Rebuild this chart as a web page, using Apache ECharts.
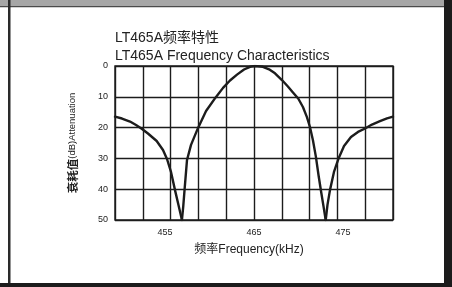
<!DOCTYPE html>
<html>
<head>
<meta charset="utf-8">
<script src="https://cdn.jsdelivr.net/npm/echarts@6/dist/echarts.min.js"></script>
<style>html,body{margin:0;padding:0;background:#fff}#c{width:452px;height:287px}</style>
</head>
<body>
<div id="c"></div>
<script>
// Frequency (kHz) / attenuation (dB) readings
var leftLobe = [
  [449.375, 16.46], [450.16, 17.05], [451.06, 18.02], [451.74, 19.16], [452.38, 20.36],
  [453.08, 21.92], [454.06, 24.35], [454.77, 27.27], [455.22, 30.2], [455.67, 34.4],
  [456.12, 40.3], [456.51, 45.1], [456.9, 50]
];
var mainLobe = [
  [456.9, 50], [457.05, 45.5], [457.2, 40], [457.47, 30.5], [457.92, 25.6],
  [458.71, 20.1], [459.61, 14.6], [460.69, 10.2], [461.52, 7.1], [462.3, 4.7],
  [463.09, 2.8], [463.88, 1.14], [464.55, 0.26], [465.1, 0], [466.0, 0.26],
  [466.69, 1.07], [467.36, 2.37], [468.14, 4.55], [468.81, 6.66], [469.38, 8.6],
  [469.97, 10.55], [470.5, 13.3], [470.95, 16.6], [471.29, 19.8], [471.62, 24.0],
  [471.96, 29.5], [472.25, 35.4], [472.5, 40], [472.81, 45.5], [473.06, 50]
];
var rightLobe = [
  [473.06, 50], [473.26, 45.1], [473.54, 40.3], [473.99, 34.4], [474.48, 30.2],
  [475.12, 26.0], [475.9, 23.05], [476.69, 21.4], [477.48, 20.3], [478.26, 19.0],
  [479.16, 17.9], [479.95, 17.0], [480.625, 16.46]
];
var xTickLabels = [455, 465, 475];

var chart = echarts.init(document.getElementById('c'), null, {renderer: 'canvas'});
var ink = '#1c1c1c';
var lineStyle = {color: ink, width: 2.4, join: 'round', cap: 'round'};
function lobe(d) {
  return {type: 'line', data: d, xAxisIndex: 0, yAxisIndex: 0, smooth: false,
    showSymbol: false, symbol: 'none', lineStyle: lineStyle, silent: true};
}
chart.setOption({
  animation: false,
  backgroundColor: '#fff',
  title: {
    text: 'LT465A频率特性\nLT465A Frequency Characteristics',
    left: 115, top: 29.5, padding: 0,
    textStyle: {fontFamily: 'Liberation Sans, Noto Sans CJK SC', fontSize: 14, fontWeight: 'normal', color: '#222', lineHeight: 18}
  },
  grid: {left: 115, top: 66, width: 278, height: 154, show: true, borderColor: ink, borderWidth: 1.4, backgroundColor: 'transparent'},
  xAxis: [{
    type: 'value', min: 449.375, max: 480.625,
    axisLine: {show: false}, axisTick: {show: false}, splitLine: {show: false},
    axisLabel: {customValues: xTickLabels, fontSize: 9, color: '#222', margin: 8, fontFamily: 'Liberation Sans'},
    name: '频率Frequency(kHz)', nameLocation: 'middle', nameGap: 24,
    nameTextStyle: {fontSize: 12, color: '#222', fontFamily: 'Liberation Sans, Noto Sans CJK SC', padding: [0, 10, 0, 0]}
  }, {
    type: 'value', min: 0, max: 10, interval: 1, position: 'bottom',
    axisLine: {show: false}, axisTick: {show: false}, axisLabel: {show: false},
    splitLine: {show: true, lineStyle: {color: ink, width: 1.4}}
  }],
  yAxis: {
    type: 'value', inverse: true, min: 0, max: 50, interval: 10,
    axisLine: {show: false}, axisTick: {show: false},
    splitLine: {show: true, lineStyle: {color: ink, width: 1.4}},
    axisLabel: {fontSize: 9, color: '#222', margin: 7, fontFamily: 'Liberation Sans'},
    name: '{a|衰耗值}{b|(dB)Attenuation}', nameLocation: 'middle', nameGap: 37, nameRotate: 90,
    nameTextStyle: {rich: {
      a: {fontSize: 11.5, fontWeight: 'bold', color: '#222', fontFamily: 'Noto Sans CJK SC'},
      b: {fontSize: 9.5, color: '#222', fontFamily: 'Liberation Sans'}
    }}
  },
  series: [lobe(leftLobe), lobe(mainLobe), lobe(rightLobe)],
  graphic: [
    {type: 'rect', shape: {x: 0, y: 0, width: 452, height: 6}, style: {fill: '#a6a6a6'}, silent: true},
    {type: 'rect', shape: {x: 0, y: 6, width: 444, height: 1.2}, style: {fill: '#4a4a4a'}, silent: true},
    {type: 'rect', shape: {x: 8, y: 0, width: 2.5, height: 284}, style: {fill: '#2a2a2a'}, silent: true},
    {type: 'rect', shape: {x: 444, y: 0, width: 8, height: 287}, style: {fill: '#1c1c1c'}, silent: true},
    {type: 'rect', shape: {x: 0, y: 283, width: 452, height: 4}, style: {fill: '#1c1c1c'}, silent: true}
  ]
});
</script>
</body>
</html>
